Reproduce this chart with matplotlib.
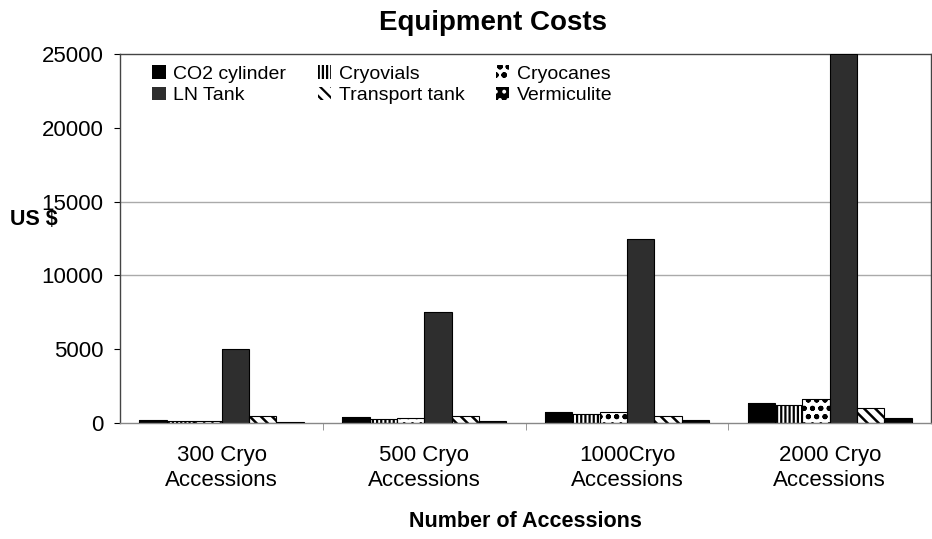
import numpy as np
import matplotlib
matplotlib.use('Agg')
import matplotlib.pyplot as plt

plt.rcParams['font.family'] = ['Liberation Sans', 'DejaVu Sans']
plt.rcParams['hatch.linewidth'] = 1.6

# data
categories = ['300 Cryo\nAccessions', '500 Cryo\nAccessions', '1000Cryo\nAccessions', '2000 Cryo\nAccessions']
series_names = ['CO2 cylinder', 'Cryovials', 'Cryocanes', 'LN Tank', 'Transport tank', 'Vermiculite']
co2_cylinder = [200, 430, 720, 1380]
cryovials = [120, 270, 610, 1240]
cryocanes = [150, 380, 770, 1630]
ln_tank = [5050, 7500, 12500, 25000]
transport_tank = [510, 500, 500, 1020]
vermiculite = [70, 110, 200, 340]

values = [co2_cylinder, cryovials, cryocanes, ln_tank, transport_tank, vermiculite]
# (facecolor, hatch, hatch colour, hatch linewidth)
styles = [('black', None, 'black', 1.6),
          ('white', '||||', 'black', 1.6),
          ('white', 'oo..', 'black', 1.3),
          ('#2e2e2e', None, '#2e2e2e', 1.6),
          ('white', '\\\\\\', 'black', 1.8),
          ('black', '..', 'white', 1.6)]

fig = plt.figure(figsize=(9.32, 5.39), dpi=100)
ax = fig.add_axes([0.129, 0.215, 0.870, 0.685])

x = np.arange(len(categories))
w = 0.135
handles = {}
for i, (name, vals, (fc, hatch, hc, hlw)) in enumerate(zip(series_names, values, styles)):
    pos = x + (i - 2.5) * w
    with plt.rc_context({'hatch.linewidth': hlw}):
        bars = ax.bar(pos, vals, w, color=fc, hatch=hatch, edgecolor=hc, linewidth=0, label=name, zorder=2)
    ax.bar(pos, vals, w, fill=False, edgecolor='black', linewidth=0.8, zorder=3)
    handles[name] = bars

for yv in [10000, 15000]:
    ax.axhline(yv, color='#aaaaaa', linewidth=1, zorder=1)

ax.set_xlim(-0.5, 3.5)
ax.set_ylim(0, 25000)
ax.set_yticks([0, 5000, 10000, 15000, 20000, 25000])
ax.tick_params(axis='y', labelsize=16, length=4, direction='out', pad=8)
ax.set_xticks(x)
ax.set_xticklabels(categories, fontsize=16)
ax.tick_params(axis='x', length=0, pad=16)
ax.set_xticks([0.5, 1.5, 2.5], minor=True)
ax.tick_params(axis='x', which='minor', length=5, color='#888888')
for s in ax.spines.values():
    s.set_color('#444444')
    s.set_linewidth(1)
ax.spines['bottom'].set_color('#888888')

fig.text(0.529, 0.957, 'Equipment Costs', fontsize=20, fontweight='bold', ha='center', va='center')
ax.set_xlabel('Number of Accessions', fontsize=15.5, fontweight='bold', labelpad=15)
fig.text(0.011, 0.593, 'US $', fontsize=15.5, fontweight='bold', ha='left', va='center')

order = ['CO2 cylinder', 'LN Tank', 'Cryovials', 'Transport tank', 'Cryocanes', 'Vermiculite']
ax.legend([handles[n] for n in order], order, ncol=3, loc='upper left',
          bbox_to_anchor=(0.02, 1.012), frameon=False, fontsize=14,
          handlelength=0.7, handleheight=0.7, handletextpad=0.4,
          columnspacing=1.6, labelspacing=0.2, borderaxespad=0.4)

fig.savefig('out.png', dpi=100)
